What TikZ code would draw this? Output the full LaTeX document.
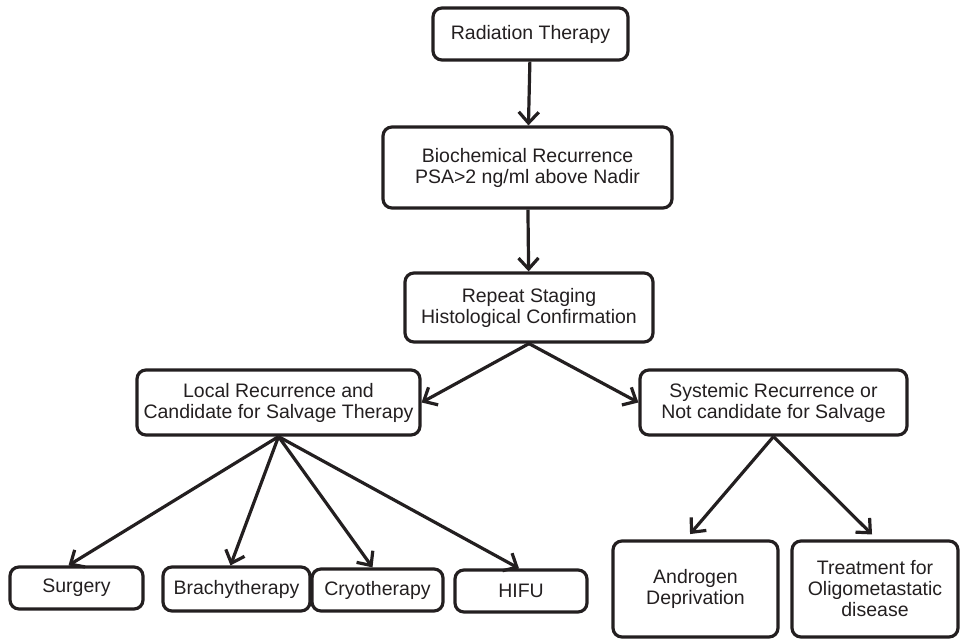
\documentclass[tikz,border=0pt]{standalone}
\usepackage{fontspec}
\setmainfont{Liberation Sans}
\usepackage{tikz}
\usetikzlibrary{arrows.meta,positioning}
\definecolor{ink}{HTML}{231F20}

\begin{document}
\begin{tikzpicture}[x=1pt, y=-1pt, font=\fontsize{19.5}{21}\selectfont,
    >={Straight Barb[length=11pt, width=20pt, line width=3.2pt]}]
  \useasboundingbox (0,0) rectangle (962,639);
  \tikzset{box/.style={draw=ink, text=ink, line width=3.2pt, rounded corners=9pt,
                       align=center, inner sep=2pt, minimum width=#1},
           flow/.style={->, draw=ink, line width=3.2pt}}
  % main chain
  \node[box=195pt, minimum height=52pt] (rt)  at (530.5,34)   {Radiation Therapy};
  \node[box=289pt, minimum height=81pt] (bcr) at (527.5,167.5)
       {Biochemical Recurrence\\PSA>2 ng/ml above Nadir};
  \node[box=248pt, minimum height=69pt] (stg) at (529,307.5)
       {Repeat Staging\\Histological Confirmation};

  % the two branches
  \node[box=283pt, minimum height=65pt] (loc) at (278.5,402.5)
       {Local Recurrence and\\Candidate for Salvage Therapy};
  \node[box=267pt, minimum height=65pt] (sys) at (773.5,402.5)
       {Systemic Recurrence or\\Not candidate for Salvage};

  % salvage options
  \node[box=133pt, minimum height=42pt] (surg)   at (76.5,588)  {Surgery};
  \node[box=147pt, minimum height=44pt] (brachy) at (236.5,589) {Brachytherapy};
  \node[box=131pt, minimum height=42pt] (cryo)   at (377.5,590) {Cryotherapy};
  \node[box=132pt, minimum height=42pt] (hifu)   at (521,591)   {HIFU};

  % systemic options
  \node[box=165pt, minimum height=96pt] (adt)   at (695.5,589) {Androgen\\Deprivation};
  \node[box=166pt, minimum height=96pt] (oligo) at (875,589)
       {Treatment for\\Oligometastatic\\disease};

  \draw[flow] (rt)--(bcr);
  \draw[flow] (bcr)--(stg);
  \draw[flow] (stg.south)--(loc.east);
  \draw[flow] (stg.south)--(sys.west);
  \draw[flow] (loc.south)--([xshift=-8pt]surg.north);
  \draw[flow] (loc.south)--([xshift=-6pt]brachy.north);
  \draw[flow] (loc.south)--([xshift=-5pt]cryo.north);
  \draw[flow] (loc.south)--([xshift=-2pt]hifu.north);
  \draw[flow, shorten >=7pt] (sys.south)--([xshift=-10pt]adt.north);
  \draw[flow, shorten >=7pt] (sys.south)--([xshift=2pt]oligo.north);
\end{tikzpicture}
\end{document}
